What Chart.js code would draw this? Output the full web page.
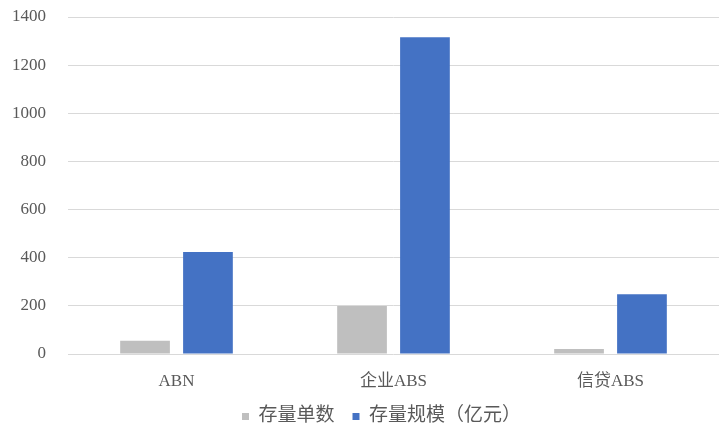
<!DOCTYPE html>
<html>
<head>
<meta charset="utf-8">
<script src="https://cdn.jsdelivr.net/npm/chart.js@4/dist/chart.umd.min.js"></script>
<style>
  html, body { margin: 0; padding: 0; background: #ffffff; }
  #wrap { width: 721px; height: 428px; }
</style>
</head>
<body>
<div id="wrap"><canvas id="c" width="721" height="428"></canvas></div>
<script>
// Outstanding securitisation products by type
const categories = ['ABN', '企业ABS', '信贷ABS'];
const countLabel = '存量单数';
const sizeLabel = '存量规模（亿元）';
const countValues = [55, 199, 21];
const sizeValues = [424, 1316, 248];
const yTicks = [0, 200, 400, 600, 800, 1000, 1200, 1400];

const serif = "'Liberation Serif', 'Times New Roman', 'Noto Sans CJK SC', serif";

// nudge the legend block right of the canvas centre and up into its band
const legendShift = {
  id: 'legendShift',
  afterLayout(chart) {
    const lg = chart.legend;
    if (lg) {
      lg.left += 22; lg.right += 22;
      lg.top -= 5; lg.bottom -= 5;
    }
  }
};

new Chart(document.getElementById('c'), {
  type: 'bar',
  data: {
    labels: categories,
    datasets: [
      { label: countLabel, data: countValues, backgroundColor: '#bfbfbf', borderWidth: 0 },
      { label: sizeLabel, data: sizeValues, backgroundColor: '#4472c4', borderWidth: 0 }
    ]
  },
  plugins: [legendShift],
  options: {
    responsive: false,
    animation: false,
    devicePixelRatio: 1,
    layout: { autoPadding: false, padding: { top: 17, right: 2, left: 0, bottom: 0 } },
    datasets: { bar: { categoryPercentage: 0.58, barPercentage: 0.79 } },
    plugins: {
      tooltip: { enabled: false },
      legend: {
        position: 'bottom',
        maxHeight: 34,
        labels: {
          font: { family: serif, size: 19 },
          color: '#595959',
          boxWidth: 7,
          boxHeight: 7,
          padding: 18
        }
      }
    },
    scales: {
      x: {
        grid: { display: false, drawTicks: false },
        border: { display: false },
        afterFit: (s) => { s.height = 40; },
        ticks: { font: { family: serif, size: 17 }, color: '#595959', padding: 17 }
      },
      y: {
        min: 0,
        max: 1400,
        afterFit: (s) => { s.width = 68; },
        afterBuildTicks: (s) => { s.ticks = yTicks.map(v => ({ value: v })); },
        grid: { color: '#d9d9d9', lineWidth: 1, drawTicks: true, tickLength: 22, tickColor: 'rgba(0,0,0,0)' },
        border: { display: false },
        ticks: {
          font: { family: serif, size: 17 },
          color: '#595959',
          padding: 0,
          callback: (v) => String(v)
        }
      }
    }
  }
});
</script>
</body>
</html>
